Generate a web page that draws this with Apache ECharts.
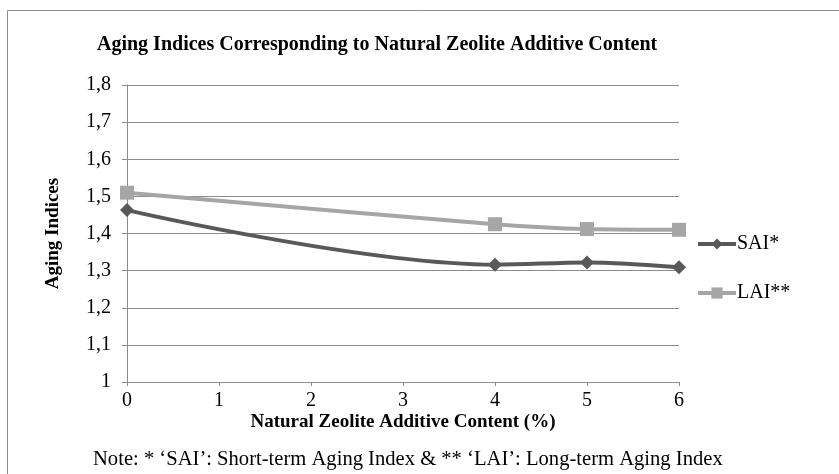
<!DOCTYPE html>
<html><head><meta charset="utf-8">
<script src="https://cdn.jsdelivr.net/npm/echarts@6/dist/echarts.min.js"></script>
<style>html,body{margin:0;padding:0;background:#fff}#c{width:839px;height:474px}</style>
</head><body><div id="c"></div>
<script>
const xValues = [0, 4, 5, 6];
const saiValues = [1.463, 1.316, 1.322, 1.309];
const laiValues = [1.510, 1.425, 1.412, 1.410];
const seriesNames = ['SAI*', 'LAI**'];
const titleText = 'Aging Indices Corresponding to Natural Zeolite Additive Content';
const xAxisTitle = 'Natural Zeolite Additive Content (%)';
const yAxisTitle = 'Aging Indices';
const noteText = 'Note: * \u2018SAI\u2019: Short-term Aging Index & ** \u2018LAI\u2019: Long-term Aging Index';

const font = 'Liberation Serif, Times New Roman, serif';
const chart = echarts.init(document.getElementById('c'));
const pair = (xs, ys) => xs.map((x, i) => [x, ys[i]]);
chart.setOption({
  animation: false,
  textStyle: { fontFamily: font },
  title: { text: titleText, left: 92, top: 30,
    textStyle: { fontFamily: font, fontSize: 20, fontWeight: 'bold', color: '#000' } },
  grid: { left: 127, right: 160, top: 85, bottom: 92 },
  legend: {
    orient: 'vertical', left: 696, top: 234, padding: 0, itemGap: 29, itemWidth: 38, itemHeight: 14,
    lineStyle: { width: 4 },
    textStyle: { fontFamily: font, fontSize: 20, color: '#000', padding: [0, 0, 0, -4] },
    data: seriesNames
  },
  xAxis: {
    type: 'value', min: 0, max: 6, interval: 1,
    name: xAxisTitle, nameLocation: 'middle', nameGap: 31, nameMoveOverlap: false,
    nameTextStyle: { fontFamily: font, fontSize: 19, fontWeight: 'bold', color: '#000' },
    axisLine: { show: true, lineStyle: { color: '#8c8c8c', width: 1 } },
    axisTick: { show: true, length: 4, lineStyle: { color: '#8c8c8c' } },
    splitLine: { show: false },
    axisLabel: { fontFamily: font, fontSize: 20, color: '#000', margin: 9 }
  },
  yAxis: {
    type: 'value', min: 1, max: 1.8, interval: 0.1,
    name: yAxisTitle, nameLocation: 'middle', nameGap: 64, nameMoveOverlap: false,
    nameTextStyle: { fontFamily: font, fontSize: 19, fontWeight: 'bold', color: '#000' },
    axisLine: { show: true, lineStyle: { color: '#8c8c8c', width: 1 } },
    axisTick: { show: true, length: 5, lineStyle: { color: '#8c8c8c' } },
    splitLine: { show: true, lineStyle: { color: '#8c8c8c', width: 1 } },
    axisLabel: { fontFamily: font, fontSize: 20, color: '#000', margin: 16,
      formatter: v => (Math.round(v * 10) / 10).toString().replace('.', ',') }
  },
  series: [
    { name: seriesNames[0], type: 'line', smooth: 0.35, data: pair(xValues, saiValues),
      symbol: 'diamond', symbolSize: 14,
      lineStyle: { color: '#595959', width: 4 }, itemStyle: { color: '#595959' }, z: 3 },
    { name: seriesNames[1], type: 'line', smooth: 0.35, data: pair(xValues, laiValues),
      symbol: 'rect', symbolSize: 14,
      lineStyle: { color: '#a6a6a6', width: 4 }, itemStyle: { color: '#a6a6a6' }, z: 2 }
  ],
  graphic: [
    { type: 'rect', shape: { x: 7.5, y: 10.5, width: 840, height: 470 },
      style: { fill: null, stroke: '#8c8c8c', lineWidth: 1 }, silent: true },
    { type: 'text', left: 93, top: 449,
      style: { text: noteText, fontFamily: font, fontSize: 20.6, fill: '#000' } }
  ]
});
</script></body></html>
